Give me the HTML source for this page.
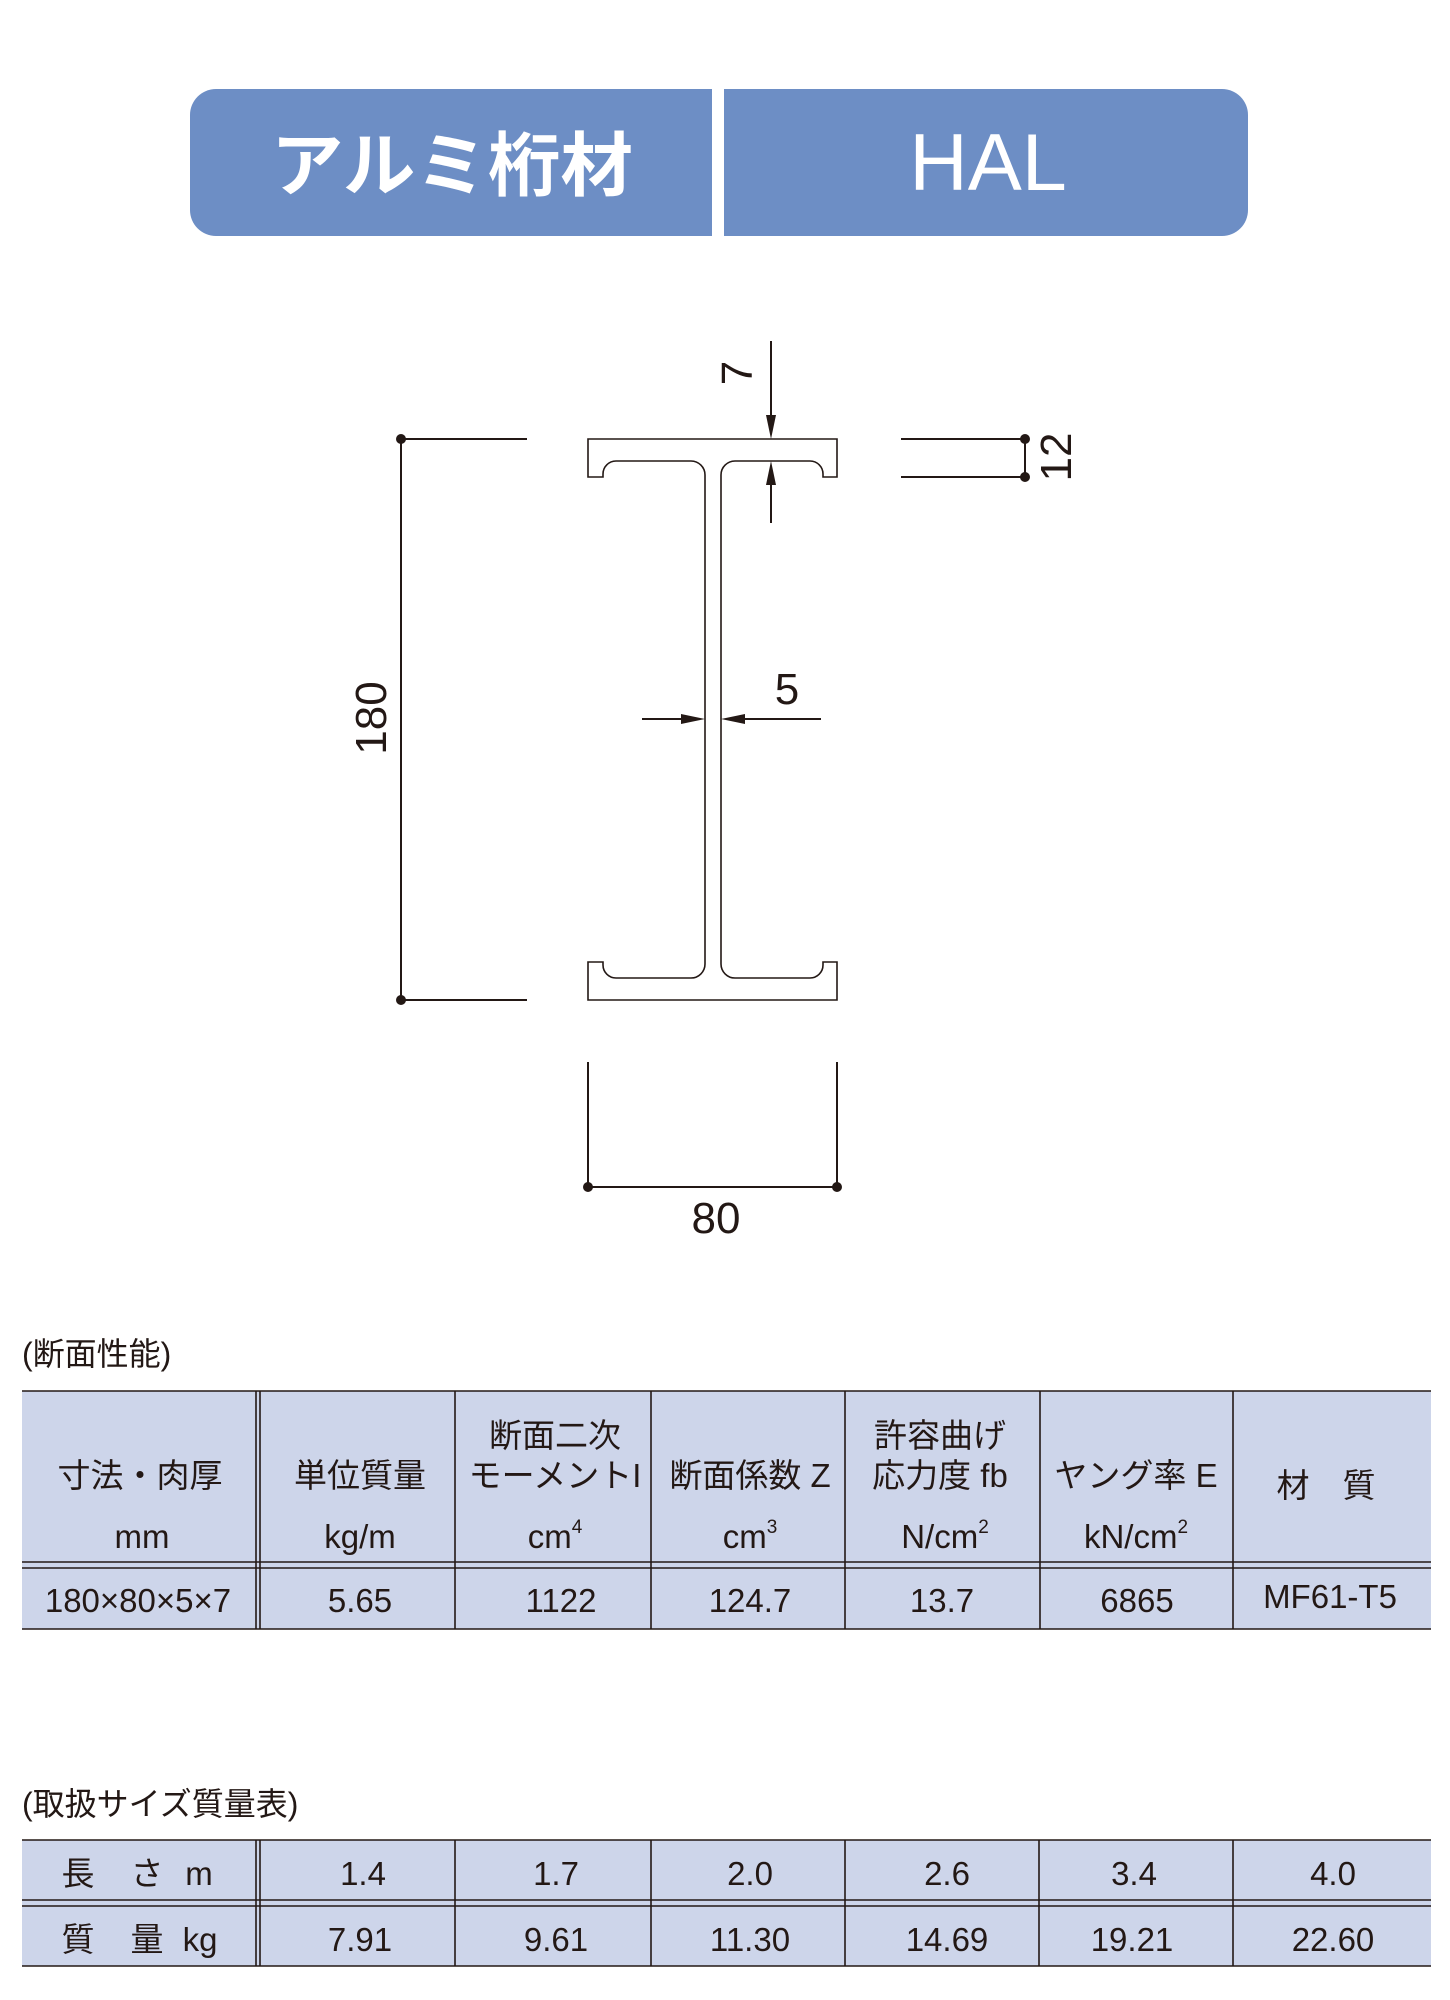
<!DOCTYPE html>
<html><head><meta charset="utf-8"><style>
html,body{margin:0;padding:0;background:#fff;}
svg{display:block;}
text{font-family:"Liberation Sans","Noto Sans CJK JP",sans-serif;fill:#231815;}
</style></head><body>
<svg width="1450" height="2000" viewBox="0 0 1450 2000" xmlns="http://www.w3.org/2000/svg">
<!-- header -->
<rect x="190" y="89" width="1058" height="147" rx="26" fill="#6d8ec5"/>
<rect x="712" y="85" width="12" height="155" fill="#fff"/>
<text x="452" y="190" font-size="70" font-weight="bold" text-anchor="middle" style="fill:#fff" textLength="362" lengthAdjust="spacingAndGlyphs">アルミ桁材</text>
<text x="988" y="190" font-size="81" text-anchor="middle" style="fill:#fff">HAL</text>

<!-- I beam -->
<g fill="none" stroke="#231815" stroke-width="1.6">
<path d="M588 439 H837 V477 H823 V474 A13 13 0 0 0 810 461 H735 A14 14 0 0 0 721 475 V964 A14 14 0 0 0 735 978 H810 A13 13 0 0 0 823 965 V962 H837 V1000 H588 V962 H603 V965 A13 13 0 0 0 616 978 H691 A14 14 0 0 0 705 964 V475 A14 14 0 0 0 691 461 H616 A13 13 0 0 0 603 474 V477 H588 Z"/>
</g>
<g stroke="#231815" stroke-width="2" fill="#231815">
<line x1="401" y1="439" x2="401" y2="1000"/>
<line x1="401" y1="439" x2="527" y2="439"/>
<line x1="401" y1="1000" x2="527" y2="1000"/>
<circle cx="401" cy="439" r="4"/><circle cx="401" cy="1000" r="4"/>
<line x1="901" y1="439" x2="1025" y2="439"/>
<line x1="901" y1="477" x2="1025" y2="477"/>
<line x1="1025" y1="439" x2="1025" y2="477"/>
<circle cx="1025" cy="439" r="4"/><circle cx="1025" cy="477" r="4"/>
<line x1="588" y1="1062" x2="588" y2="1187"/>
<line x1="837" y1="1062" x2="837" y2="1187"/>
<line x1="588" y1="1187" x2="837" y2="1187"/>
<circle cx="588" cy="1187" r="4"/><circle cx="837" cy="1187" r="4"/>
<line x1="771" y1="341" x2="771" y2="425"/>
<polygon points="771,439 766,415 776,415" stroke="none"/>
<line x1="771" y1="475" x2="771" y2="523"/>
<polygon points="771,461 766,485 776,485" stroke="none"/>
<line x1="642" y1="719" x2="690" y2="719"/>
<polygon points="705,719 681,714 681,724" stroke="none"/>
<line x1="736" y1="719" x2="821" y2="719"/>
<polygon points="721,719 745,714 745,724" stroke="none"/>
</g>
<text font-size="44" text-anchor="middle" transform="translate(386,718) rotate(-90)">180</text>
<text font-size="44" text-anchor="middle" transform="translate(752,373) rotate(-90)">7</text>
<text font-size="44" text-anchor="middle" transform="translate(1071,457) rotate(-90)">12</text>
<text x="787" y="704" font-size="44" text-anchor="middle">5</text>
<text x="716" y="1233" font-size="44" text-anchor="middle">80</text>

<!-- table 1 -->
<text x="22" y="1365" font-size="32">(断面性能)</text>
<rect x="22" y="1391" width="1409" height="238" fill="#cdd5ea"/>
<g stroke="#231815" stroke-width="1.6">
<line x1="22" y1="1391" x2="1431" y2="1391"/>
<line x1="22" y1="1562" x2="1431" y2="1562"/>
<line x1="22" y1="1568" x2="1431" y2="1568"/>
<line x1="22" y1="1629" x2="1431" y2="1629"/>
<line x1="256" y1="1391" x2="256" y2="1629"/>
<line x1="260" y1="1391" x2="260" y2="1629"/>
<line x1="455" y1="1391" x2="455" y2="1629"/>
<line x1="651" y1="1391" x2="651" y2="1629"/>
<line x1="845" y1="1391" x2="845" y2="1629"/>
<line x1="1040" y1="1391" x2="1040" y2="1629"/>
<line x1="1233" y1="1391" x2="1233" y2="1629"/>
</g>
<g font-size="33" text-anchor="middle">
<text x="140" y="1487">寸法・肉厚</text>
<text x="142" y="1548">mm</text>
<text x="360" y="1487">単位質量</text>
<text x="360" y="1548">kg/m</text>
<text x="555" y="1447">断面二次</text>
<text x="555" y="1487">モーメントI</text>
<text x="555" y="1548">cm<tspan font-size="19" dy="-15">4</tspan></text>
<text x="750" y="1487">断面係数 Z</text>
<text x="750" y="1548">cm<tspan font-size="19" dy="-15">3</tspan></text>
<text x="940" y="1447">許容曲げ</text>
<text x="940" y="1487">応力度 fb</text>
<text x="945" y="1548">N/cm<tspan font-size="19" dy="-15">2</tspan></text>
<text x="1136" y="1487">ヤング率 E</text>
<text x="1136" y="1548">kN/cm<tspan font-size="19" dy="-15">2</tspan></text>
<text x="1326" y="1497">材　質</text>
<text x="138" y="1612">180×80×5×7</text>
<text x="360" y="1612">5.65</text>
<text x="561" y="1612">1122</text>
<text x="750" y="1612">124.7</text>
<text x="942" y="1612">13.7</text>
<text x="1137" y="1612">6865</text>
<text x="1330" y="1608">MF61-T5</text>
</g>

<!-- table 2 -->
<text x="22" y="1815" font-size="32">(取扱サイズ質量表)</text>
<rect x="22" y="1840" width="1409" height="126" fill="#cdd5ea"/>
<g stroke="#231815" stroke-width="1.6">
<line x1="22" y1="1840" x2="1431" y2="1840"/>
<line x1="22" y1="1900" x2="1431" y2="1900"/>
<line x1="22" y1="1906" x2="1431" y2="1906"/>
<line x1="22" y1="1966" x2="1431" y2="1966"/>
<line x1="256" y1="1840" x2="256" y2="1966"/>
<line x1="260" y1="1840" x2="260" y2="1966"/>
<line x1="455" y1="1840" x2="455" y2="1966"/>
<line x1="651" y1="1840" x2="651" y2="1966"/>
<line x1="845" y1="1840" x2="845" y2="1966"/>
<line x1="1039" y1="1840" x2="1039" y2="1966"/>
<line x1="1233" y1="1840" x2="1233" y2="1966"/>
</g>
<g font-size="33" text-anchor="middle">
<text x="78" y="1885">長</text><text x="147" y="1885">さ</text><text x="199" y="1885">m</text>
<text x="78" y="1951">質</text><text x="147" y="1951">量</text><text x="200" y="1951">kg</text>
<text x="363" y="1885">1.4</text><text x="556" y="1885">1.7</text><text x="750" y="1885">2.0</text><text x="947" y="1885">2.6</text><text x="1134" y="1885">3.4</text><text x="1333" y="1885">4.0</text>
<text x="360" y="1951">7.91</text><text x="556" y="1951">9.61</text><text x="750" y="1951">11.30</text><text x="947" y="1951">14.69</text><text x="1132" y="1951">19.21</text><text x="1333" y="1951">22.60</text>
</g>
</svg>
</body></html>
